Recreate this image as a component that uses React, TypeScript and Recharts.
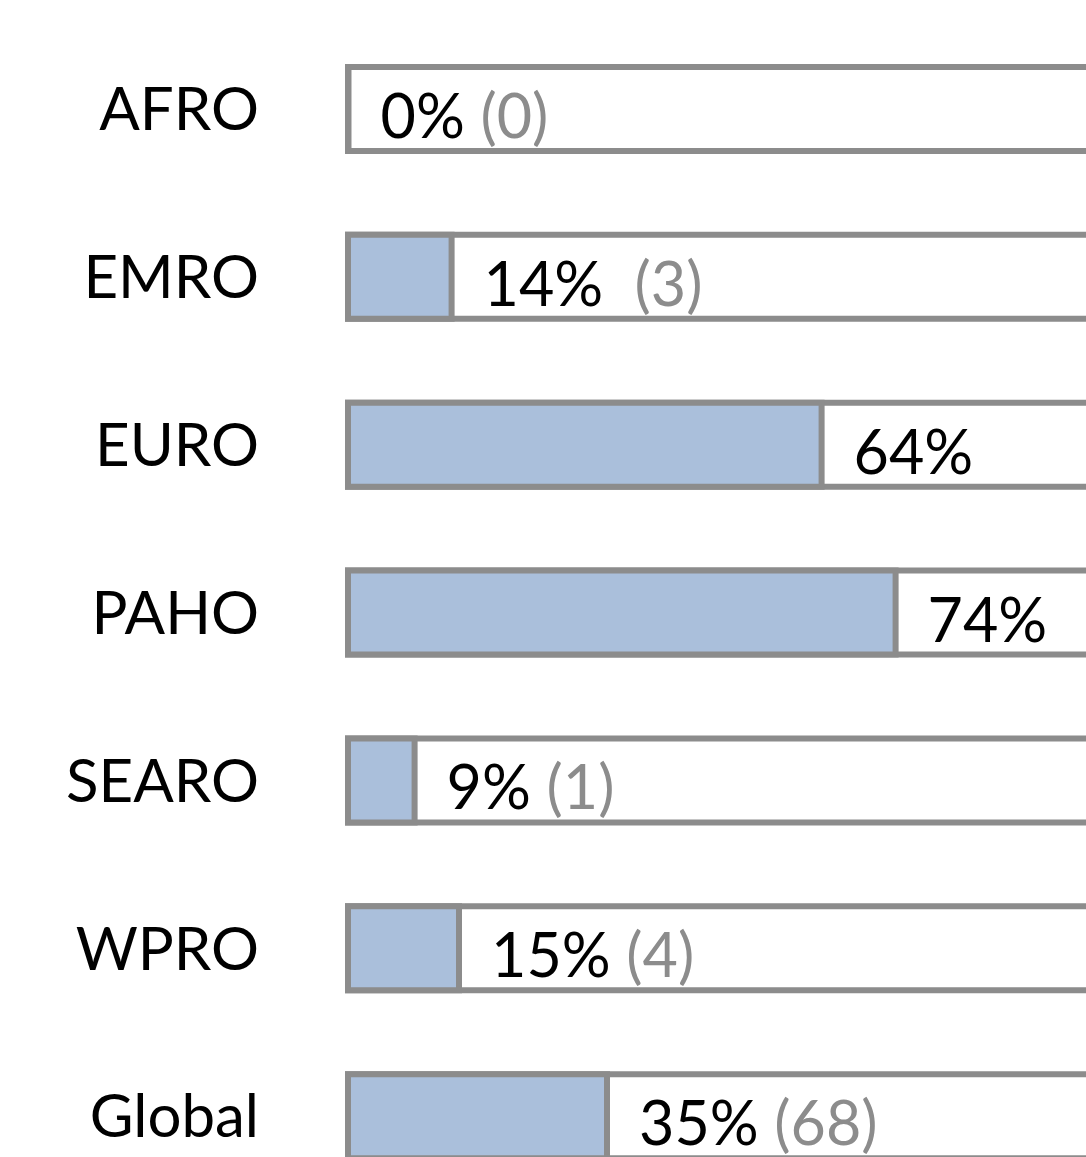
import React from "react";
import { BarChart, Bar, XAxis, YAxis, LabelList } from "recharts";

// regions, share of countries (%) and counts
const regions = ["AFRO", "EMRO", "EURO", "PAHO", "SEARO", "WPRO", "Global"];
const shares = [0, 14, 64, 74, 9, 15, 35];
const countLabels = ["(0)", " (3)", "", "", "(1)", "(4)", "(68)"];

const data = regions.map((name, i) => ({
  name,
  share: shares[i],
  count: countLabels[i],
}));

const GRAY = "#8c8c8c";
const FILL = "#aabfdb";

const ValueLabel = (props: any) => {
  const { x, y, width, height, index } = props;
  const row = data[index];
  if (!row) return null;
  return (
    <text
      x={x + width + 32}
      y={y + height / 2 + 29}
      fontSize={61}
      fontFamily="Lato"
      fill="#000"
      style={{ whiteSpace: "pre" }}
    >
      {`${row.share}% `}
      <tspan fill={GRAY}>{row.count}</tspan>
    </text>
  );
};

const App: React.FC = () => {
  return (
    <div
      style={{
        position: "absolute",
        left: 0,
        top: 0,
        width: 1086,
        height: 1157,
        overflow: "hidden",
        background: "#fff",
      }}
    >
      <BarChart
        width={1162}
        height={1200}
        data={data}
        layout="vertical"
        margin={{ top: 25, right: 0, bottom: 0, left: 0 }}
        barSize={84}
      >
        <XAxis type="number" domain={[0, 110]} hide />
        <YAxis
          type="category"
          dataKey="name"
          width={348}
          axisLine={false}
          tickLine={false}
          tickSize={0}
          tickMargin={89}
          tick={{ fontSize: 60, fill: "#000", fontFamily: "Lato" }}
        />
        <Bar
          dataKey="share"
          fill={FILL}
          stroke={GRAY}
          strokeWidth={6}
          minPointSize={0.5}
          background={{ fill: "#fff", stroke: GRAY, strokeWidth: 6 }}
          isAnimationActive={false}
        >
          <LabelList dataKey="share" content={ValueLabel} />
        </Bar>
      </BarChart>
    </div>
  );
};

export default App;
